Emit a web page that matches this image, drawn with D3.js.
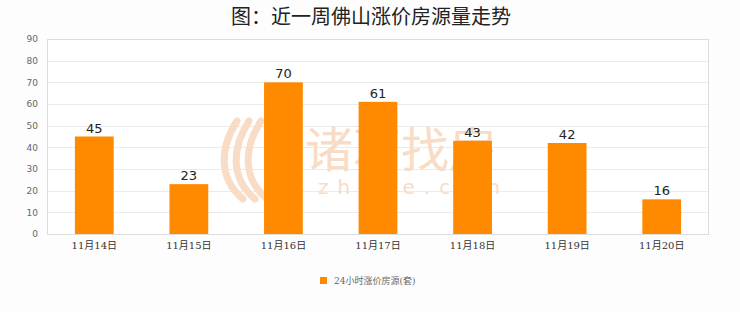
<!DOCTYPE html>
<meta charset="utf-8">
<style>
body { margin: 0; background: #fdfdfd; }
text { font-family: "DejaVu Sans", "Noto Sans CJK SC", sans-serif; }
</style>
<svg width="740" height="312"></svg>
<script src="https://cdn.jsdelivr.net/npm/d3@7"></script>
<script>

var days = ["11月14日", "11月15日", "11月16日", "11月17日", "11月18日", "11月19日", "11月20日"];
var counts = [45, 23, 70, 61, 43, 42, 16];
var yTicks = [0, 10, 20, 30, 40, 50, 60, 70, 80, 90];
var seriesName = "24小时涨价房源(套)";

var svg = d3.select("svg"),
    margin = {top: 39, right: 31, bottom: 78, left: 47},
    width = +svg.attr("width") - margin.left - margin.right,
    height = +svg.attr("height") - margin.top - margin.bottom;

svg.append("rect").attr("width", 740).attr("height", 312).attr("fill", "#fdfdfd");

svg.append("text")
    .attr("x", 371).attr("y", 24)
    .attr("text-anchor", "middle")
    .style("font-family", "'Noto Sans CJK SC', sans-serif")
    .style("font-size", "20px").style("font-weight", "normal")
    .attr("fill", "#222")
    .text("图：近一周佛山涨价房源量走势");

var x = d3.scaleBand().domain(days).range([0, width]).paddingInner(0.59).paddingOuter(0.295);
var y = d3.scaleLinear().domain([0, 90]).range([height, 0]);

var g = svg.append("g").attr("transform", "translate(" + margin.left + "," + margin.top + ")");

g.append("rect").attr("width", width).attr("height", height).attr("fill", "#fff");

// grid
g.selectAll(".grid").data(yTicks).enter().append("line")
    .attr("x1", 0).attr("x2", width)
    .attr("y1", function(d) { return Math.round(y(d)) + 0.5; })
    .attr("y2", function(d) { return Math.round(y(d)) + 0.5; })
    .attr("stroke", "#ebebeb");

// watermark (sits under the bars)
var wm = g.append("g").attr("fill", "#f8dcc5");
wm.append("text").attr("x", 258).attr("y", 128)
    .style("font-family", "'Noto Sans CJK SC', sans-serif")
    .style("font-size", "48px").text("诸葛找房");
wm.append("text").attr("x", 271).attr("y", 155)
    .style("font-size", "20px").attr("letter-spacing", "9px").text("zhuge.com");
// little feather logo
[0, 1, 2].forEach(function(k) {
  wm.append("path")
      .attr("d", "M" + (190 + k * 12) + ",82 C" + (172 + k * 12) + ",110 " + (172 + k * 12) + ",140 " + (196 + k * 12) + ",160")
      .attr("fill", "none").attr("stroke", "#f8dcc5").attr("stroke-width", 7).attr("stroke-linecap", "round");
});

// frame
g.append("rect").attr("x", 0.5).attr("y", 0.5).attr("width", width - 1).attr("height", height)
    .attr("fill", "none").attr("stroke", "#dcdcdc");

g.selectAll(".bar").data(counts).enter().append("rect")
    .attr("x", function(d, i) { return x(days[i]); })
    .attr("y", function(d) { return y(d); })
    .attr("width", x.bandwidth())
    .attr("height", function(d) { return height - y(d); })
    .attr("fill", "#ff8a00");

g.selectAll(".val").data(counts).enter().append("text")
    .attr("x", function(d, i) { return x(days[i]) + x.bandwidth() / 2; })
    .attr("y", function(d) { return y(d) - 4; })
    .attr("text-anchor", "middle")
    .style("font-size", "13px").attr("fill", "#222")
    .text(function(d) { return d; });

var yAxis = g.append("g").call(d3.axisLeft(y).tickValues(yTicks).tickSize(0).tickPadding(9));
yAxis.select(".domain").remove();
yAxis.selectAll("text").style("font-size", "9px").attr("fill", "#666");

var xAxis = g.append("g").attr("transform", "translate(0," + height + ")")
    .call(d3.axisBottom(x).tickSize(0).tickPadding(8));
xAxis.select(".domain").remove();
xAxis.selectAll("text").style("font-size", "10px")
    .style("font-family", "'DejaVu Serif', 'Noto Sans CJK SC', serif").attr("fill", "#333");

// legend
var lg = svg.append("g").attr("transform", "translate(320,277)");
lg.append("rect").attr("width", 7).attr("height", 7).attr("fill", "#ff8a00");
lg.append("text").attr("x", 14).attr("y", 7)
    .style("font-size", "9px").attr("fill", "#666")
    .style("font-family", "'DejaVu Serif', 'Noto Sans CJK SC', serif")
    .text(seriesName);

</script>
